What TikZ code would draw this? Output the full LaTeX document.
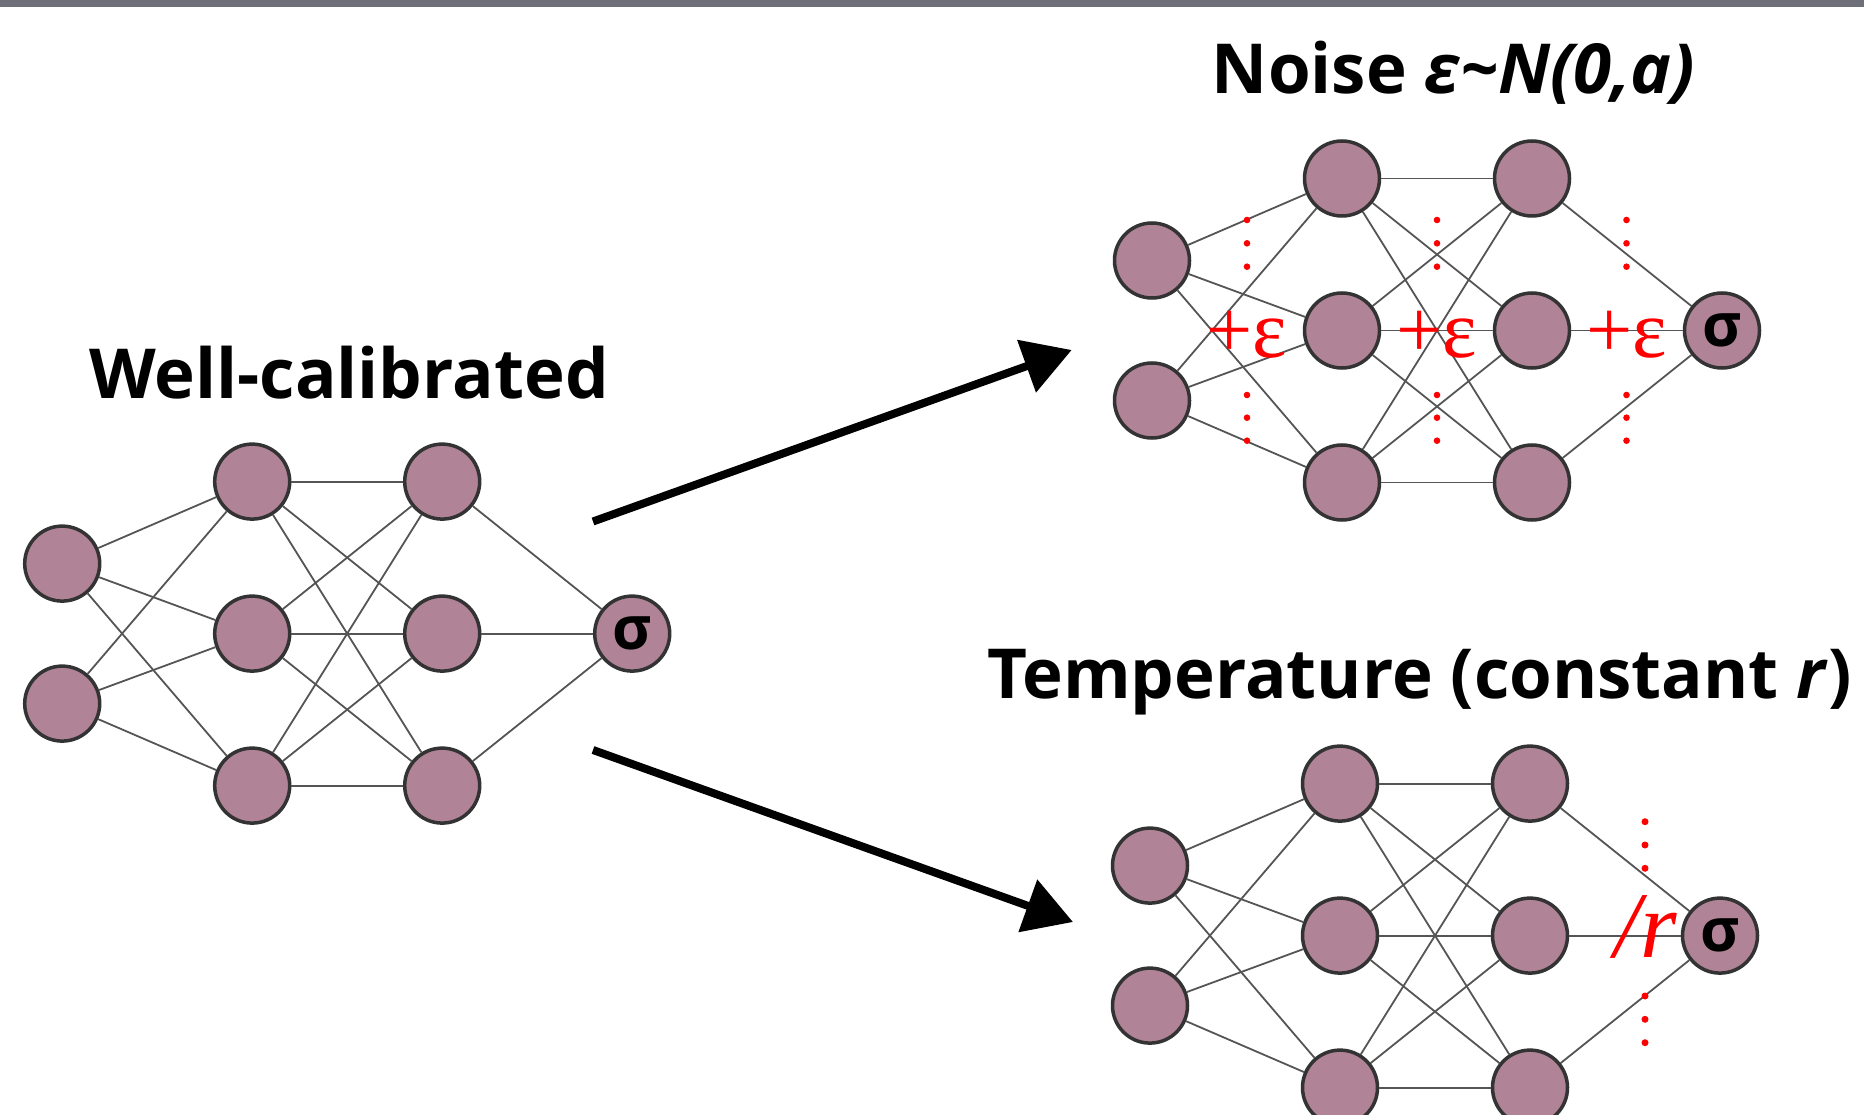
\documentclass[tikz,border=0pt]{standalone}
\usepackage{fontspec}
\setmainfont{Open Sans}
\newfontfamily\redfont{Liberation Serif}
\usetikzlibrary{arrows.meta}
\definecolor{nodecol}{RGB}{176,131,151}
\definecolor{nodeline}{RGB}{51,51,51}
\definecolor{edgecol}{RGB}{85,85,85}
\definecolor{barcol}{RGB}{109,112,120}
\tikzset{
  neuron/.style={circle, minimum size=75pt, inner sep=0pt, draw=nodeline, line width=3.5pt, fill=nodecol, font=\bfseries\fontsize{60}{60}\selectfont},
  edge/.style={draw=edgecol, line width=1.8pt},
  title/.style={inner sep=0pt, anchor=base, font=\bfseries\fontsize{69}{80}\selectfont},
  redlab/.style={inner sep=0pt, anchor=base, text=red, font=\redfont\fontsize{82}{82}\selectfont},
  reddot/.style={fill=red},
  bigarrow/.style={line width=8pt, -{Triangle[length=48pt,width=54pt]}},
}
\newcommand\drawnet[3]{%
  \begin{scope}[shift={(#2,#3)}]
    \node[neuron] (#1i1) at (-190,-70) {};
    \node[neuron] (#1i2) at (-190,70) {};
    \foreach \k/\yy in {1/-152,2/0,3/152}{
      \node[neuron] (#1a\k) at (0,\yy) {};
      \node[neuron] (#1b\k) at (190,\yy) {};
    }
    \node[neuron] (#1o) at (380,0) {σ};
    \foreach \i in {1,2} \foreach \j in {1,2,3} \draw[edge] (#1i\i) -- (#1a\j);
    \foreach \i in {1,2,3} \foreach \j in {1,2,3} \draw[edge] (#1a\i) -- (#1b\j);
    \foreach \j in {1,2,3} \draw[edge] (#1b\j) -- (#1o);
  \end{scope}}
\begin{document}
\begin{tikzpicture}[x=1pt,y=-1pt]
\useasboundingbox (0,0) rectangle (1864,1115);
\fill[barcol] (0,0) rectangle (1864,7.5);

% networks
\drawnet{L}{252.2}{633.6}
\drawnet{T}{1342}{330.5}
\drawnet{B}{1340}{935.6}

% titles
\node[title] (tw) at (349,398) {Well-calibrated};
\node[title] (tn) at (1453.6,93.3) {Noise \textit{ε\textasciitilde N(0,a)}};
\node[title] (tt) at (1419.5,698) {Temperature (constant \textit{r})};

% arrows
\coordinate (a1s) at (593,521.5);
\coordinate (a1e) at (1071.7,350);
\coordinate (a2s) at (593,750);
\coordinate (a2e) at (1073,922);
\draw[bigarrow] (a1s) -- (a1e);
\draw[bigarrow] (a2s) -- (a2e);

% noise labels
\foreach \xx [count=\n] in {1247,1437,1626.5}{
  \node[redlab] (eps\n) at (\xx,357) {+ε};
  \foreach \yy in {220,243.3,266.7,395,417.7,440.7}
    \fill[reddot] (\xx,\yy) circle (3.3pt);
}
% temperature label
\node[redlab, font=\redfont\itshape\fontsize{94}{94}\selectfont] (div) at (1646,957) {/r};
\foreach \yy in {821.7,845,868.3,996,1019.3,1042.7}
  \fill[reddot] (1645,\yy) circle (3.5pt);
\end{tikzpicture}
\end{document}
